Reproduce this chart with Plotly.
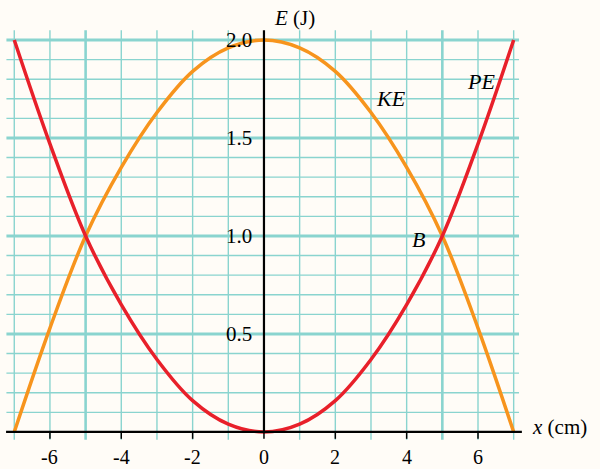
import plotly.graph_objects as go

# data
x_cm = [-7, -6, -5, -4, -3, -2, -1, 0, 1, 2, 3, 4, 5, 6, 7]
pe_j = [2.0, 1.47, 1.0, 0.65, 0.37, 0.16, 0.04, 0.0, 0.04, 0.16, 0.37, 0.65, 1.0, 1.47, 2.0]
ke_j = [0.0, 0.53, 1.0, 1.35, 1.63, 1.84, 1.96, 2.0, 1.96, 1.84, 1.63, 1.35, 1.0, 0.53, 0.0]

x_ticks = [-6, -4, -2, 0, 2, 4, 6]
y_ticks = [0.5, 1.0, 1.5, 2.0]
x_grid = list(range(-7, 8))
y_grid = [i / 10 for i in range(1, 21)]

GRID = "#8ad4cf"
FONT = "Liberation Serif"

fig = go.Figure()

# grid drawn as shapes so it stops at the edge of the graph paper
shapes = []
for gx in x_grid:
    if gx == 0:
        continue
    w = 2.6 if gx in (-5, 5) else 1.4
    shapes.append(dict(type="line", x0=gx, x1=gx, y0=-0.04, y1=2.05,
                       line=dict(color=GRID, width=w), layer="below"))
for gy in y_grid:
    w = 3 if round(gy * 10) % 5 == 0 else 1.4
    shapes.append(dict(type="line", x0=-7.22, x1=7.15, y0=gy, y1=gy,
                       line=dict(color=GRID, width=w), layer="below"))

# axes
shapes.append(dict(type="line", x0=-7.23, x1=7.23, y0=0, y1=0, line=dict(color="black", width=2.2)))
shapes.append(dict(type="line", x0=0, x1=0, y0=0, y1=2.05, line=dict(color="black", width=2.2)))
for t in x_ticks:
    shapes.append(dict(type="line", x0=t, x1=t, y0=0, y1=-0.035, line=dict(color="black", width=1.5)))

fig.add_trace(go.Scatter(x=x_cm, y=ke_j, mode="lines", line=dict(color="#f7941d", width=3.5, shape="spline"),
                         hoverinfo="skip"))
fig.add_trace(go.Scatter(x=x_cm, y=pe_j, mode="lines", line=dict(color="#e8202a", width=3.5, shape="spline"),
                         hoverinfo="skip"))

ann = []
for t in x_ticks:
    ann.append(dict(x=t, y=-0.128, text=str(t), showarrow=False, font=dict(family=FONT, size=20, color="black")))
for t in y_ticks:
    ann.append(dict(x=-0.28, y=t, text=f"{t:.1f}", showarrow=False, xanchor="right",
                    font=dict(family=FONT, size=21, color="black")))

ann.append(dict(x=0.22, y=2.11, text="<i>E</i> (J)", showarrow=False, xanchor="left",
                font=dict(family=FONT, size=21, color="black")))
ann.append(dict(x=7.45, y=0.025, text="<i>x</i> (cm)", showarrow=False, xanchor="left",
                font=dict(family=FONT, size=21, color="black")))
ann.append(dict(x=3.56, y=1.70, text="<i>KE</i>", showarrow=False, font=dict(family=FONT, size=22, color="black")))
ann.append(dict(x=6.08, y=1.79, text="<i>PE</i>", showarrow=False, font=dict(family=FONT, size=22, color="black")))
ann.append(dict(x=4.32, y=0.98, text="<i>B</i>", showarrow=False, font=dict(family=FONT, size=22, color="black")))

fig.update_layout(
    width=600, height=469,
    margin=dict(l=0, r=0, t=0, b=0),
    paper_bgcolor="#fffcf7", plot_bgcolor="#fffcf7",
    showlegend=False,
    shapes=shapes,
    annotations=ann,
    xaxis=dict(range=[-7.40, 9.42], visible=False, fixedrange=True),
    yaxis=dict(range=[-0.189, 2.204], visible=False, fixedrange=True),
)

# drop the page's default body margin so the figure sits at the window corner
fig.write_html("out.html", config={"displayModeBar": False},
               post_script="document.body.style.margin='0';document.body.style.background='#fffcf7';")
